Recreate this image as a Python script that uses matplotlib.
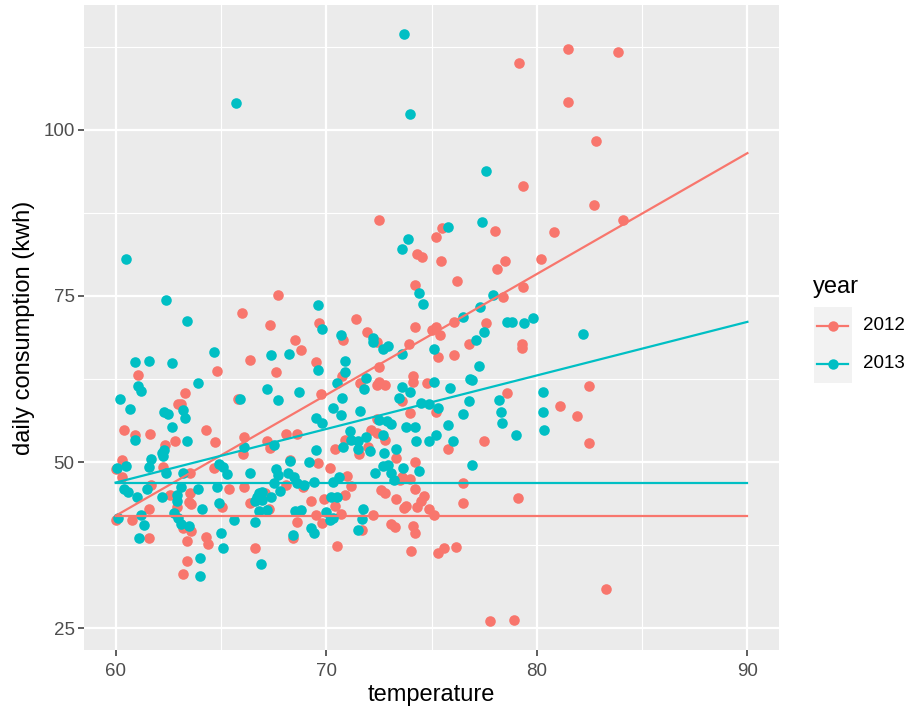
import matplotlib
matplotlib.use("Agg")
import matplotlib.pyplot as plt
from matplotlib.patches import Rectangle
from matplotlib.lines import Line2D
from matplotlib.ticker import FixedLocator

plt.rcParams['font.family'] = ['Liberation Sans', 'DejaVu Sans']

# ---- data -------------------------------------------------------------
years = ["2012", "2013"]
colors = ["#F8766D", "#00BFC4"]

temp_2012 = [71.6, 72.4, 72.8, 74.1, 74.8, 73.6, 74.0, 75.2, 78.6, 77.5, 75.8, 72.4, 72.15, 72.4,
             72.8, 70.9, 72.0, 71.55, 70.4, 73.3, 74.2, 70.2, 71.0, 71.2, 70.9, 73.5, 73.6, 74.0,
             74.2, 72.6, 72.8, 73.3, 76.5, 74.65, 74.5, 74.3, 73.7, 73.8, 74.9, 75.1, 76.5, 79.1,
             70.4, 70.7, 72.2, 71.7, 73.1, 73.25, 74.1, 74.2, 70.5, 74.05, 75.3, 75.6, 76.15,
             63.3, 62.96, 63.1, 60.4, 60.9, 61.65, 64.3, 62.8, 62.35, 64.7, 65.8, 69.75, 68.1,
             68.6, 67.2, 67.35, 66.1, 66.05, 68.3, 69.6, 60.3, 60.0, 60.3, 61.7, 62.25, 63.55,
             62.6, 63.55, 63.5, 63.6, 62.9, 65.4, 65.05, 64.65, 66.1, 66.4, 67.1, 67.3, 68.1,
             68.9, 69.3, 69.9, 68.6, 69.5, 69.8, 68.4, 66.6, 64.3, 64.4, 63.4, 63.2, 63.6, 63.2,
             63.4, 61.6, 60.8, 60.0, 61.6,
             67.7, 66.0, 67.35, 69.66, 68.5, 68.8, 66.4, 67.6, 69.5, 64.8, 61.05,
             72.5, 75.5, 75.2, 78.0, 74.3, 74.55, 75.45, 78.5, 78.1, 76.2, 74.2, 79.35, 78.4,
             76.05, 77.6, 76.8, 79.3, 79.3, 76.07, 75.2, 75.0, 75.4, 74.2, 75.3, 73.95, 72.5,
             71.96, 72.4, 71.4, 70.8, 70.75, 72.5, 74.1,
             80.8, 80.2, 82.5, 81.1, 81.9, 82.5, 83.3, 81.5, 83.85, 81.5, 82.8, 82.7, 84.1,
             79.15, 79.35, 77.8, 78.9]
kwh_2012 = [61.9, 61.6, 61.6, 62.1, 61.9, 59.2, 57.4, 57.5, 60.35, 53.2, 51.9, 56.5, 54.8, 54.4,
            53.3, 53.3, 52.3, 51.2, 51.9, 50.6, 50.0, 49.05, 47.9, 46.4, 45.1, 47.3, 47.7, 47.4,
            46.0, 45.8, 45.3, 44.5, 46.8, 44.9, 44.2, 43.2, 43.1, 43.4, 42.9, 42.0, 43.9, 44.6,
            43.4, 42.1, 42.0, 39.8, 40.7, 40.2, 40.3, 39.3, 37.4, 36.6, 36.3, 37.0, 37.2,
            60.35, 58.7, 58.8, 54.8, 54.1, 54.2, 54.8, 53.1, 52.6, 53.0, 59.5, 60.2, 54.2,
            54.2, 53.1, 52.1, 53.7, 51.2, 50.3, 49.8, 50.3, 48.9, 47.8, 46.5, 49.3, 48.3,
            45.0, 45.3, 44.0, 43.7, 43.3, 45.9, 43.2, 49.05, 46.3, 43.9, 45.3, 43.0, 46.5,
            46.2, 44.2, 44.5, 41.0, 42.0, 40.8, 38.5, 37.1, 38.75, 37.65, 35.1, 33.1, 39.65, 40.0,
            38.1, 38.5, 41.3, 41.3, 42.9,
            75.1, 72.5, 70.7, 71.0, 68.4, 66.9, 65.3, 63.55, 65.0, 63.75, 63.1,
            86.4, 85.2, 83.9, 84.8, 81.3, 80.9, 80.3, 80.2, 79.1, 77.2, 76.7, 76.3, 74.9,
            71.1, 71.0, 67.8, 67.8, 67.2, 66.1, 70.3, 69.8, 69.1, 70.3, 65.8, 67.8, 64.3,
            69.5, 68.0, 71.5, 68.3, 62.95, 62.1, 62.9,
            84.6, 80.6, 61.4, 58.5, 57.0, 52.8, 30.9, 112.2, 111.7, 104.2, 98.3, 88.75, 86.4,
            110.1, 91.6, 26.05, 26.2]

temp_2013 = [70.5, 71.8, 75.1, 75.9, 76.9, 70.75, 73.45, 73.6, 74.0, 74.5, 74.9, 75.3, 76.8,
             78.2, 80.3, 78.3, 78.35, 79.0, 76.5, 75.8, 76.0, 75.2, 74.9, 74.25, 74.2, 73.8,
             70.3, 70.7, 71.6, 72.5, 72.9, 73.1, 71.15, 72.7, 71.9, 71.2, 71.5, 71.5, 70.8,
             72.1, 72.75, 73.3, 72.7, 72.95, 73.1, 72.3, 73.65, 74.4, 76.9, 70.6, 70.3, 73.2,
             70.25, 70.5, 71.75, 70.3, 71.7, 71.5,
             61.06, 61.2, 60.2, 60.7, 63.9, 63.2, 63.3, 62.3, 62.5, 62.7, 60.9, 63.4, 62.3,
             62.25, 62.2, 65.9, 67.2, 67.7, 68.7, 69.5, 69.8, 67.5, 66.1, 69.5, 69.2, 61.7,
             61.6, 60.06, 60.5, 60.4, 60.6, 61.0, 61.5, 62.4, 63.2, 62.2, 63.1, 62.9, 62.9,
             63.9, 64.1, 64.8, 64.9, 64.9, 65.1, 65.3, 66.4, 66.6, 66.8, 66.95, 66.7, 66.95,
             66.8, 67.2, 67.4, 67.8, 67.6, 67.7, 67.5, 68.2, 68.3, 68.45, 68.6, 68.96, 69.4,
             68.5, 68.8, 70.0, 70.2, 69.3, 69.4, 68.4, 65.6, 66.6, 66.9, 65.0, 65.1, 64.0,
             64.0, 63.5, 63.1, 62.75, 62.95, 61.35, 61.1, 61.2, 60.1,
             60.5, 62.4, 63.4, 69.6, 69.8, 68.25, 67.4, 69.6, 64.65, 60.9, 61.6, 62.7,
             75.8, 77.4, 73.9, 73.6, 74.4, 74.6, 77.9, 77.3, 76.5, 78.6, 78.8, 79.4, 79.8,
             77.5, 77.1, 77.26, 76.85, 75.1, 73.6, 72.2, 72.2, 72.7, 72.95, 70.7, 70.9, 70.9,
             71.9,
             65.7, 73.7, 74.0, 77.6, 82.2, 80.3, 80.35]
kwh_2013 = [61.9, 61.0, 62.1, 61.1, 62.35, 59.6, 59.6, 61.25, 60.5, 58.9, 58.7, 58.2, 59.2,
            59.3, 60.5, 57.6, 55.8, 54.0, 57.2, 55.6, 53.1, 54.1, 53.1, 53.2, 55.3, 55.2,
            58.1, 57.1, 57.7, 56.3, 56.2, 55.7, 54.6, 54.1, 53.7, 53.3, 53.1, 51.9, 52.3,
            51.7, 51.4, 52.0, 49.4, 49.5, 48.4, 48.3, 49.1, 48.6, 49.5, 47.8, 47.0, 47.3,
            44.8, 44.7, 43.0, 41.5, 41.4, 39.8,
            61.45, 60.7, 59.5, 58.0, 61.85, 57.8, 56.7, 57.6, 57.2, 55.3, 53.3, 53.2, 51.8,
            50.9, 51.3, 59.5, 61.0, 59.4, 60.6, 56.6, 55.9, 52.6, 52.3, 51.8, 50.05, 50.4,
            49.2, 49.05, 49.4, 45.9, 45.5, 44.8, 45.9, 48.4, 48.4, 44.8, 46.2, 45.0, 44.2,
            45.9, 42.9, 46.2, 43.8, 49.7, 49.2, 48.2, 48.4, 44.2, 45.3, 45.5, 44.7, 44.3,
            42.6, 42.8, 44.8, 45.7, 48.9, 48.0, 46.8, 48.4, 50.2, 47.8, 46.9, 46.5, 47.05,
            42.7, 42.8, 42.4, 41.3, 40.0, 39.3, 39.0, 41.2, 40.9, 34.7, 39.35, 37.1, 35.5,
            32.8, 40.3, 40.7, 42.3, 41.5, 40.5, 38.5, 42.0, 41.5,
            80.5, 74.4, 71.3, 73.6, 70.0, 66.3, 66.1, 63.8, 66.6, 65.0, 65.2, 64.9,
            85.4, 86.1, 83.6, 82.0, 75.4, 73.8, 75.15, 73.3, 71.9, 71.1, 71.1, 70.9, 71.7,
            69.6, 68.4, 64.5, 62.5, 67.0, 66.2, 68.6, 68.1, 67.0, 67.4, 69.1, 65.25, 63.55,
            62.6,
            104.0, 114.5, 102.4, 93.8, 69.2, 57.5, 54.8]

# model lines evaluated at the ends of the temperature range
line_temp = [60, 90]
trend_2012 = [41.9, 96.5]
trend_2013 = [46.9, 71.1]
flat_2012 = [41.9, 41.9]
flat_2013 = [46.9, 46.9]

x_breaks = [60, 70, 80, 90]
x_minor = [65, 75, 85]
y_breaks = [25, 50, 75, 100]
y_minor = [37.5, 62.5, 87.5, 112.5]

# ---- figure -----------------------------------------------------------
W, H, DPI = 915, 717, 100
fig = plt.figure(figsize=(W / DPI, H / DPI), dpi=DPI)
fig.patch.set_facecolor("white")

L, R, T, B = 84, 779, 5, 650
ax = fig.add_axes([L / W, 1 - B / H, (R - L) / W, (B - T) / H])
ax.set_facecolor("#EBEBEB")
for s in ax.spines.values():
    s.set_visible(False)

ax.set_xlim(58.5, 91.5)
ax.set_ylim(21.7, 118.8)

ax.xaxis.set_major_locator(FixedLocator(x_breaks))
ax.xaxis.set_minor_locator(FixedLocator(x_minor))
ax.yaxis.set_major_locator(FixedLocator(y_breaks))
ax.yaxis.set_minor_locator(FixedLocator(y_minor))
ax.set_xticklabels([str(v) for v in x_breaks])
ax.set_yticklabels([str(v) for v in y_breaks])

ax.grid(which="major", color="white", linewidth=1.6)
ax.grid(which="minor", color="white", linewidth=0.8)
ax.set_axisbelow(True)

ax.tick_params(which="major", length=4.3, width=1.1, color="#333333",
               labelcolor="#4D4D4D", labelsize=13.5, pad=2.5)
ax.tick_params(axis="x", which="major", pad=5)
ax.tick_params(which="minor", length=0)

ax.scatter(temp_2012, kwh_2012, s=58, color=colors[0], linewidths=0, zorder=2)
ax.scatter(temp_2013, kwh_2013, s=58, color=colors[1], linewidths=0, zorder=2)

ax.plot(line_temp, trend_2012, color=colors[0], lw=1.6, zorder=3)
ax.plot(line_temp, flat_2012, color=colors[0], lw=1.6, zorder=3)
ax.plot(line_temp, trend_2013, color=colors[1], lw=1.6, zorder=3)
ax.plot(line_temp, flat_2013, color=colors[1], lw=1.6, zorder=3)

ax.set_xlabel("temperature", fontsize=17, color="black", labelpad=3)
ax.set_ylabel("daily consumption (kwh)", fontsize=17, color="black", labelpad=6)

# ---- legend -----------------------------------------------------------
lax = fig.add_axes([0, 0, 1, 1], facecolor="none")
lax.set_xlim(0, W)
lax.set_ylim(H, 0)
lax.axis("off")
lax.text(813, 287, "year", fontsize=17, color="black", va="center", ha="left")
key_h = 38
for i, (yr, c) in enumerate(zip(years, colors)):
    y0 = 307 + i * key_h
    lax.add_patch(Rectangle((814, y0), 38, key_h, facecolor="#F2F2F2", edgecolor="none"))
    yc = y0 + key_h / 2
    lax.add_line(Line2D([817, 848], [yc, yc], color=c, lw=1.6))
    lax.plot([832.5], [yc], marker="o", markersize=7.5, color=c, markeredgewidth=0)
    lax.text(863, yc, yr, fontsize=13.5, color="black", va="center", ha="left")

fig.savefig("out.png", dpi=DPI)
